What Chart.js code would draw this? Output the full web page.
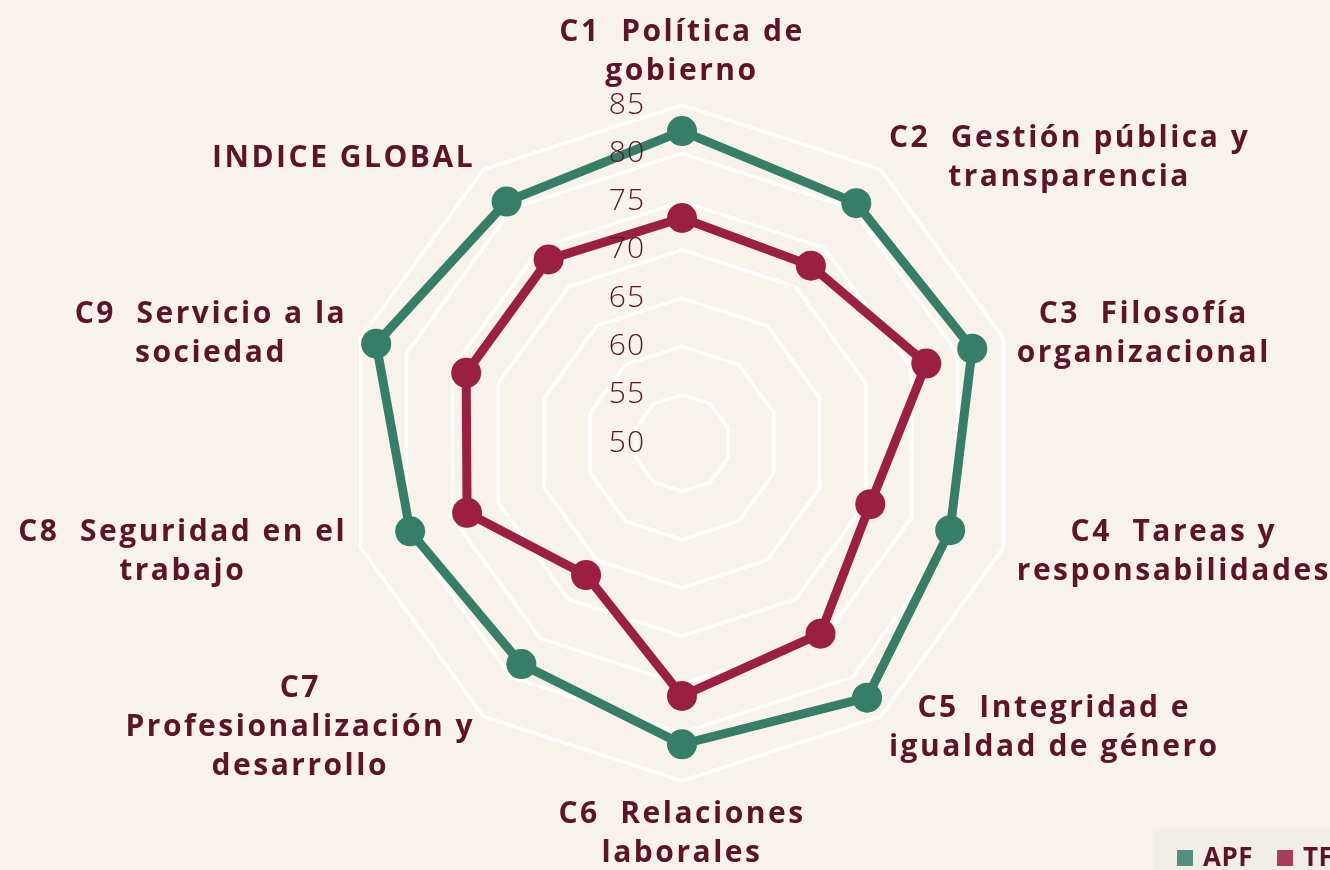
<!DOCTYPE html>
<html>
<head>
<meta charset="utf-8">
<script src="https://cdn.jsdelivr.net/npm/chart.js@4"></script>
<style>
  html, body { margin: 0; padding: 0; background: #f7f2ec; overflow: hidden; }
  #wrap { width: 1330px; height: 870px; position: relative; }
</style>
</head>
<body>
<div id="wrap"><canvas id="radar"></canvas></div>
<script>
const categories = [
    ["C1  Política de", "gobierno"],
    ["C2  Gestión pública y", "transparencia"],
    ["C3  Filosofía", "organizacional"],
    ["C4  Tareas y", "responsabilidades"],
    ["C5  Integridad e", "igualdad de género"],
    ["C6  Relaciones", "laborales"],
    ["C7", "Profesionalización y", "desarrollo"],
    ["C8  Seguridad en el", "trabajo"],
    ["C9  Servicio a la", "sociedad"],
    ["INDICE GLOBAL"]
];
const seriesNames = ["APF", "TFJA"];
const apfValues = [82.3, 80.7, 81.6, 79.2, 82.6, 81.2, 78.3, 79.6, 83.3, 80.9];
const tfValues = [73.3, 72.7, 76.6, 70.5, 74.4, 76.2, 66.9, 73.4, 73.5, 73.5];
const tickValues = [50, 55, 60, 65, 70, 75, 80, 85];

const GREEN = "#377e69";
const RED = "#9b1f42";
const TEXT = "#5e1329";
const FONT = "'Open Sans', 'DejaVu Sans', sans-serif";

// etiquetas de los ejes y de la escala, dibujadas a mano
const labelsPlugin = {
    id: "labelsPlugin",
    afterDraw(chart) {
        const ctx = chart.ctx;
        const r = chart.scales.r;
        ctx.save();

        // valores de la escala, a la izquierda del eje vertical
        ctx.font = "300 30px " + FONT;
        ctx.fillStyle = TEXT;
        ctx.textAlign = "right";
        ctx.textBaseline = "middle";
        ctx.letterSpacing = "1px";
        tickValues.forEach(v => {
            const p = r.getPointPositionForValue(0, v);
            ctx.fillText(String(v), r.xCenter - 37, p.y);
        });

        // nombres de las categorías
        ctx.font = "bold 30px " + FONT;
        ctx.letterSpacing = "2.5px";
        const lineH = 39;
        categories.forEach((lines, i) => {
            const p = r.getPointPosition(i, r.drawingArea + 14);
            const angle = (360 / categories.length) * i;
            const w = Math.max(...lines.map(l => ctx.measureText(l).width));
            const h = lines.length * lineH;
            let cx = p.x;
            if (angle > 0 && angle < 180) cx = p.x + w / 2;
            else if (angle > 180) cx = p.x - w / 2;
            let top = p.y - h / 2;
            if (angle === 0) top = p.y - h;
            else if (angle === 180) top = p.y;
            ctx.textAlign = "center";
            lines.forEach((l, k) => {
                ctx.fillText(l, cx, top + lineH * k + lineH / 2);
            });
        });

        // leyenda abajo a la derecha (se corta en el borde)
        ctx.fillStyle = "#f1eeea";
        ctx.fillRect(1153, 828, 200, 60);
        ctx.font = "bold 26px " + FONT;
        ctx.letterSpacing = "0.5px";
        ctx.textAlign = "left";
        let x = 1177;
        chart.data.datasets.forEach(ds => {
            ctx.globalAlpha = 0.85;
            ctx.fillStyle = ds.borderColor;
            ctx.fillRect(x, 850, 16, 16);
            ctx.globalAlpha = 1;
            ctx.fillStyle = TEXT;
            ctx.fillText(ds.label, x + 26, 859);
            x += 26 + ctx.measureText(ds.label).width + 24;
        });
        ctx.restore();
    }
};

new Chart(document.getElementById("radar"), {
    type: "radar",
    data: {
        labels: categories,
        datasets: [
            {
                label: seriesNames[0],
                data: apfValues,
                borderColor: GREEN,
                backgroundColor: GREEN,
                pointBackgroundColor: GREEN,
                borderWidth: 9,
                pointRadius: 15,
                pointBorderWidth: 0,
                fill: false
            },
            {
                label: seriesNames[1],
                data: tfValues,
                borderColor: RED,
                backgroundColor: RED,
                pointBackgroundColor: RED,
                borderWidth: 9,
                pointRadius: 15,
                pointBorderWidth: 0,
                fill: false
            }
        ]
    },
    options: {
        responsive: true,
        maintainAspectRatio: false,
        animation: false,
        layout: { padding: { top: 105, left: 344, right: 310, bottom: 88 } },
        plugins: { legend: { display: false }, tooltip: { enabled: false } },
        elements: { line: { tension: 0 } },
        scales: {
            r: {
                min: 50,
                max: 85,
                ticks: { stepSize: 5, display: false },
                grid: { color: "#ffffff", lineWidth: 3.5 },
                angleLines: { display: false },
                pointLabels: { display: false }
            }
        }
    },
    plugins: [labelsPlugin]
});
</script>
</body>
</html>
